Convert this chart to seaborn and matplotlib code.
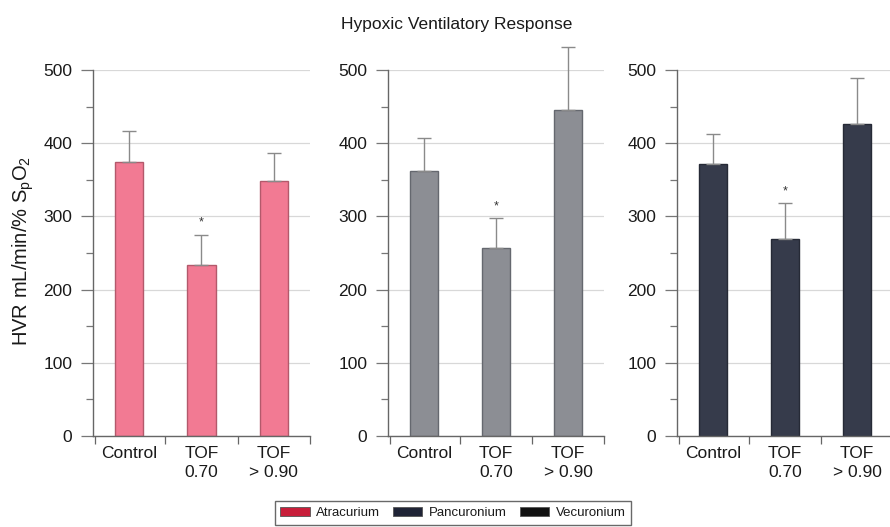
import matplotlib
matplotlib.use("Agg")
import matplotlib.pyplot as plt
from matplotlib.patches import Patch
from matplotlib.ticker import MultipleLocator, FixedLocator
import numpy as np
import pandas as pd
import seaborn as sns

sns.set_theme(style="white")
plt.rcParams["font.family"] = ["Liberation Sans", "DejaVu Sans"]

# Data: mean hypoxic ventilatory response and upper SD per condition
conditions = ["Control", "TOF\n0.70", "TOF\n> 0.90"]
drugs = ["Atracurium", "Pancuronium", "Vecuronium"]
atracurium_mean = [375, 233, 348]
atracurium_sd = [42, 42, 38]
pancuronium_mean = [362, 257, 446]
pancuronium_sd = [45, 41, 85]
vecuronium_mean = [372, 269, 426]
vecuronium_sd = [41, 49, 63]
significant = [False, True, False]

means = [atracurium_mean, pancuronium_mean, vecuronium_mean]
sds = [atracurium_sd, pancuronium_sd, vecuronium_sd]
bar_colors = ["#f27a93", "#8c8e94", "#363b4b"]
edge_colors = ["#b3596b", "#65686f", "#262a36"]
legend_colors = ["#c81e3a", "#1f2436", "#111111"]
text_color = "#1a1a1a"

W, H = 890, 527
fig = plt.figure(figsize=(W / 100, H / 100), dpi=100)

axes_px = [(93, 217), (388, 216), (677, 216)]  # left edge, width in pixels
top_px, bottom_px = 70, 436

for i, (left, width) in enumerate(axes_px):
    ax = fig.add_axes([left / W, 1 - bottom_px / H, width / W,
                       (bottom_px - top_px) / H])
    df = pd.DataFrame({"condition": conditions, "hvr": means[i]})
    sns.barplot(data=df, x="condition", y="hvr", ax=ax, color=bar_colors[i],
                width=0.39, saturation=1, edgecolor=edge_colors[i],
                linewidth=1.0, errorbar=None)
    x = np.arange(len(conditions))
    ax.errorbar(x, means[i], yerr=[np.zeros(3), sds[i]], fmt="none",
                ecolor="#8a8a8a", elinewidth=1.0, capsize=5, capthick=1.0,
                clip_on=False, zorder=1)
    for xi, m, s, sig in zip(x, means[i], sds[i], significant):
        if sig:
            ax.text(xi, m + s + 8, "*", ha="center", va="bottom",
                    fontsize=9, color="#333333")

    ax.set_ylim(0, 500)
    ax.set_xlim(-0.5, 2.5)
    ax.yaxis.set_major_locator(MultipleLocator(100))
    ax.yaxis.set_minor_locator(MultipleLocator(50))
    ax.grid(axis="y", which="major", color="#d8d8d8", linewidth=0.9)
    ax.set_axisbelow(True)

    ax.xaxis.set_minor_locator(FixedLocator([-0.47, 0.5, 1.5, 2.5]))
    ax.tick_params(axis="x", which="major", length=0, pad=7,
                   labelsize=12.5, colors=text_color)
    ax.tick_params(axis="x", which="minor", length=6, width=0.9,
                   color="#666666", direction="out", bottom=True)
    ax.tick_params(axis="y", which="major", length=9, width=0.9,
                   color="#777777", pad=6, labelsize=12.5,
                   labelcolor=text_color, left=True)
    ax.tick_params(axis="y", which="minor", length=5, width=0.9,
                   color="#777777", left=True)
    for lab in ax.get_xticklabels():
        lab.set_linespacing(1.35)

    ax.set_xlabel("")
    ax.set_ylabel("")
    for side in ["top", "right"]:
        ax.spines[side].set_visible(False)
    for side in ["left", "bottom"]:
        ax.spines[side].set_color("#666666")
        ax.spines[side].set_linewidth(1.0)

fig.text(23 / W, 1 - 251 / H,
         r"HVR mL/min/% S$_\mathregular{p}$O$_\mathregular{2}$",
         rotation=90, ha="center", va="center", fontsize=14.5,
         color=text_color)
fig.text(457 / W, 1 - 24 / H, "Hypoxic Ventilatory Response",
         ha="center", va="center", fontsize=12.5, color=text_color)

handles = [Patch(facecolor=c, edgecolor="#555555", linewidth=0.6)
           for c in legend_colors]
fig.legend(handles, drugs, loc="upper center",
           bbox_to_anchor=(453 / W, 1 - 494 / H), ncol=3, fontsize=9.5,
           frameon=True, fancybox=False, edgecolor="#444444",
           handlelength=2.2, handleheight=0.7, columnspacing=1.0,
           handletextpad=0.5, borderpad=0.45, labelcolor=text_color)

fig.savefig("out.png", dpi=100)
